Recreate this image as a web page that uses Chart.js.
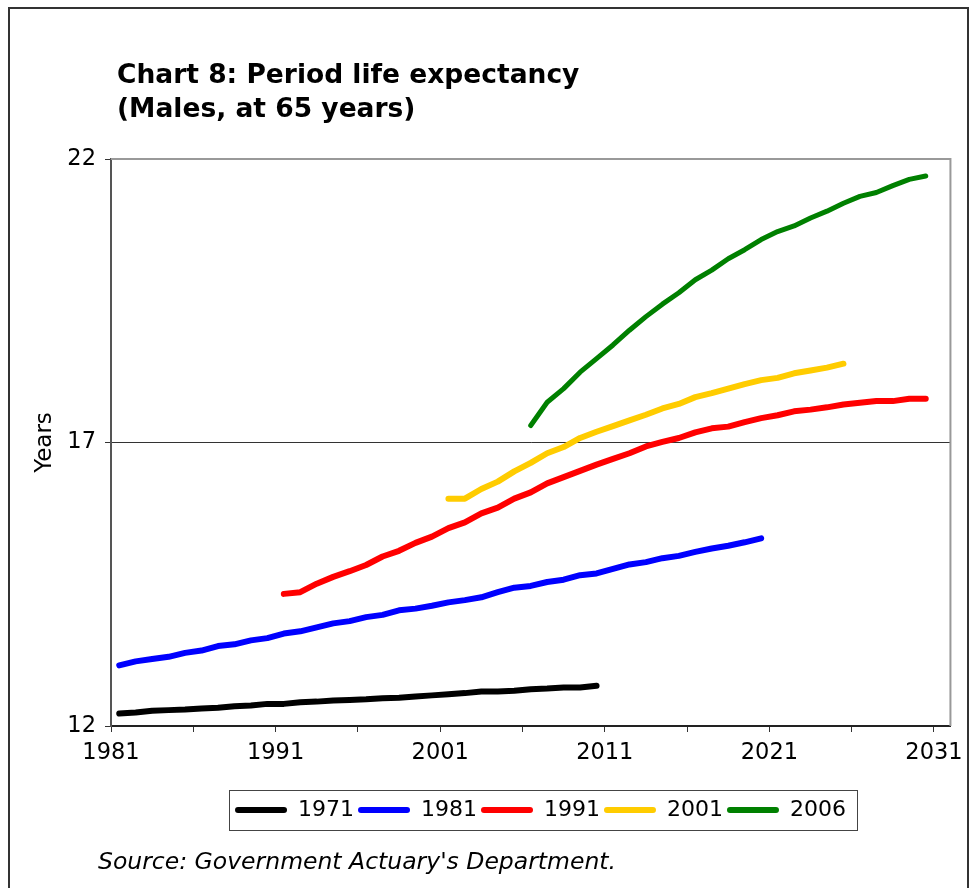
<!DOCTYPE html>
<html>
<head>
<meta charset="utf-8">
<script src="https://cdn.jsdelivr.net/npm/chart.js@4.4.1/dist/chart.umd.min.js"></script>
<style>
  html, body { margin: 0; padding: 0; background: #fff; }
  #wrap { position: relative; width: 971px; height: 888px; overflow: hidden; }
  #c { position: absolute; left: 0; top: 0; }
  #title { position: absolute; left: 117px; top: 57px; font-family: "DejaVu Sans", Verdana, sans-serif;
           font-weight: bold; font-size: 26.5px; line-height: 34px; color: #000; white-space: nowrap; }
  #source { position: absolute; left: 98px; top: 846px; font-family: "DejaVu Sans", Verdana, sans-serif;
            font-style: italic; font-size: 23.5px; line-height: 30px; color: #000; white-space: nowrap; }
</style>
</head>
<body>
<div id="wrap">
  <canvas id="c" width="971" height="888"></canvas>
  <div id="title">Chart 8: Period life expectancy<br>(Males, at 65 years)</div>
  <div id="source">Source: Government Actuary's Department.</div>
</div>
<script>
// ---- Data ----
// Mid-year positions of each annual projection value
const years = [1981.5,1982.5,1983.5,1984.5,1985.5,1986.5,1987.5,1988.5,1989.5,1990.5,
               1991.5,1992.5,1993.5,1994.5,1995.5,1996.5,1997.5,1998.5,1999.5,2000.5,
               2001.5,2002.5,2003.5,2004.5,2005.5,2006.5,2007.5,2008.5,2009.5,2010.5,
               2011.5,2012.5,2013.5,2014.5,2015.5,2016.5,2017.5,2018.5,2019.5,2020.5,
               2021.5,2022.5,2023.5,2024.5,2025.5,2026.5,2027.5,2028.5,2029.5,2030.5];

const seriesNames = ['1971', '1981', '1991', '2001', '2006'];
const firstYears  = [1981.5, 1981.5, 1991.5, 2001.5, 2006.5];

const values1971 = [12.22,12.24,12.27,12.28,12.29,12.31,12.32,12.35,12.36,12.39,
                    12.39,12.42,12.43,12.45,12.46,12.47,12.49,12.50,12.52,12.54,
                    12.56,12.58,12.61,12.61,12.62,12.65,12.66,12.68,12.68,12.71];
const values1981 = [13.07,13.14,13.18,13.22,13.29,13.33,13.41,13.44,13.51,13.55,
                    13.63,13.67,13.74,13.81,13.85,13.92,13.96,14.04,14.07,14.12,
                    14.18,14.22,14.27,14.36,14.44,14.47,14.54,14.58,14.66,14.69,
                    14.77,14.85,14.89,14.96,15.00,15.07,15.13,15.18,15.24,15.31];
const values1991 = [14.33,14.36,14.51,14.63,14.73,14.84,14.99,15.09,15.23,15.34,
                    15.49,15.59,15.75,15.85,16.01,16.12,16.28,16.39,16.50,16.61,
                    16.71,16.81,16.93,17.01,17.08,17.18,17.25,17.28,17.36,17.43,
                    17.48,17.55,17.58,17.62,17.67,17.70,17.73,17.73,17.77,17.77];
const values2001 = [16.01,16.01,16.18,16.31,16.49,16.64,16.81,16.92,17.08,17.19,
                    17.29,17.39,17.49,17.60,17.68,17.80,17.87,17.95,18.03,18.10,
                    18.14,18.22,18.27,18.32,18.39];
const values2006 = [17.30,17.71,17.95,18.24,18.48,18.72,18.98,19.22,19.44,19.64,
                    19.87,20.04,20.24,20.40,20.58,20.72,20.82,20.96,21.08,21.22,
                    21.34,21.41,21.53,21.64,21.70];

const xTickValues = [1981,1986,1991,1996,2001,2006,2011,2016,2021,2026,2031];
const xLabelValues = [1981,1991,2001,2011,2021,2031];
const yTickValues = [12,17,22];

// ---- Styles ----
const colors = ['#000000', '#0000FF', '#FF0000', '#FFCC00', '#008000'];
const widths = [6, 6, 6, 6, 5];
const FONT = '"DejaVu Sans", Verdana, sans-serif';

const allValues = [values1971, values1981, values1991, values2001, values2006];

function toPoints(first, vals) {
  const start = years.indexOf(first);
  return vals.map((v, i) => ({ x: years[start + i], y: v }));
}

const datasets = seriesNames.map((name, i) => ({
  label: name,
  data: toPoints(firstYears[i], allValues[i]),
  borderColor: colors[i],
  backgroundColor: colors[i],
  borderWidth: widths[i],
  borderCapStyle: 'round',
  borderJoinStyle: 'round',
  pointRadius: 0,
  pointHoverRadius: 0,
  tension: 0,
  fill: false
}));

const LEGEND_PAD = 4;
const LEGEND_ROW_CENTER = 810;
const LEGEND_CENTER_X = 540.5;

const framePlugin = {
  id: 'frame',
  beforeDraw(chart) {
    const ctx = chart.ctx;
    ctx.save();
    ctx.fillStyle = '#fff';
    ctx.fillRect(0, 0, chart.width, chart.height);
    ctx.strokeStyle = '#333';
    ctx.lineWidth = 2;
    ctx.strokeRect(9, 8, 959, 900);
    ctx.restore();
  },
  afterLayout(chart) {
    const lg = chart.legend;
    if (!lg) return;
    const dx = LEGEND_CENTER_X - (lg.left + lg.right) / 2;
    lg.left += dx; lg.right += dx;
    const h = lg.height;
    lg.top = LEGEND_ROW_CENTER - 11 - LEGEND_PAD;
    lg.bottom = lg.top + h;
  },
  beforeDatasetsDraw(chart) {
    const a = chart.chartArea;
    const ctx = chart.ctx;
    ctx.save();
    ctx.strokeStyle = '#999';
    ctx.lineWidth = 2;
    ctx.beginPath();
    ctx.moveTo(a.left, a.top);
    ctx.lineTo(a.right, a.top);
    ctx.lineTo(a.right, a.bottom);
    ctx.stroke();
    ctx.restore();
  },
  afterDraw(chart) {
    const lg = chart.legend;
    if (!lg || !lg.legendHitBoxes || !lg.legendHitBoxes.length) return;
    const hb = lg.legendHitBoxes;
    const first = hb[0], last = hb[hb.length - 1];
    const left = first.left - 6.5;
    const right = last.left + last.width + 11;
    const cy = first.top + first.height / 2;
    const ctx = chart.ctx;
    ctx.save();
    ctx.strokeStyle = '#444';
    ctx.lineWidth = 1;
    ctx.strokeRect(Math.round(left) + 0.5, Math.round(cy - 20) + 0.5, Math.round(right - left), 40);
    ctx.restore();
  }
};

new Chart(document.getElementById('c'), {
  type: 'line',
  data: { datasets },
  plugins: [framePlugin],
  options: {
    responsive: false,
    animation: false,
    devicePixelRatio: 1,
    layout: { padding: { top: 159, left: 9, right: 20, bottom: 81 } },
    plugins: {
      title: { display: false },
      tooltip: { enabled: false },
      legend: {
        display: true,
        position: 'bottom',
        fullSize: false,
        labels: {
          color: '#000',
          font: { family: FONT, size: 22 },
          boxWidth: 52,
          boxHeight: 6,
          padding: LEGEND_PAD,
          generateLabels(chart) {
            return chart.data.datasets.map((ds, i) => ({
              text: ds.label,
              fillStyle: ds.borderColor,
              strokeStyle: ds.borderColor,
              lineWidth: 0,
              borderRadius: 3,
              hidden: false,
              datasetIndex: i,
              fontColor: '#000'
            }));
          }
        }
      }
    },
    scales: {
      x: {
        type: 'linear',
        min: 1981,
        max: 2032,
        afterBuildTicks(scale) { scale.ticks = xTickValues.map(v => ({ value: v })); },
        afterFit(scale) { scale.height = 45; },
        ticks: {
          autoSkip: false,
          maxRotation: 0,
          padding: 8,
          color: '#000',
          font: { family: FONT, size: 22.5 },
          callback: (v) => (xLabelValues.includes(v) ? String(v) : '')
        },
        grid: { drawOnChartArea: false, drawTicks: true, tickLength: 6, tickColor: '#333', tickWidth: 1 },
        border: { display: true, color: '#222', width: 2 }
      },
      y: {
        type: 'linear',
        min: 12,
        max: 22,
        afterBuildTicks(scale) { scale.ticks = yTickValues.map(v => ({ value: v })); },
        afterFit(scale) { scale.width = 102; },
        ticks: {
          padding: 9,
          color: '#000',
          font: { family: FONT, size: 22.5 }
        },
        grid: {
          drawOnChartArea: true,
          drawTicks: true,
          tickLength: 6,
          tickColor: '#333',
          tickWidth: 1,
          lineWidth: 1,
          color: (c) => (c.tick && c.tick.value === 17 ? '#333' : 'rgba(0,0,0,0)')
        },
        border: { display: true, color: '#555', width: 2 },
        title: {
          display: true,
          text: 'Years',
          color: '#000',
          font: { family: FONT, size: 23 },
          padding: { top: 22, bottom: 0 }
        }
      }
    }
  }
});
</script>
</body>
</html>
